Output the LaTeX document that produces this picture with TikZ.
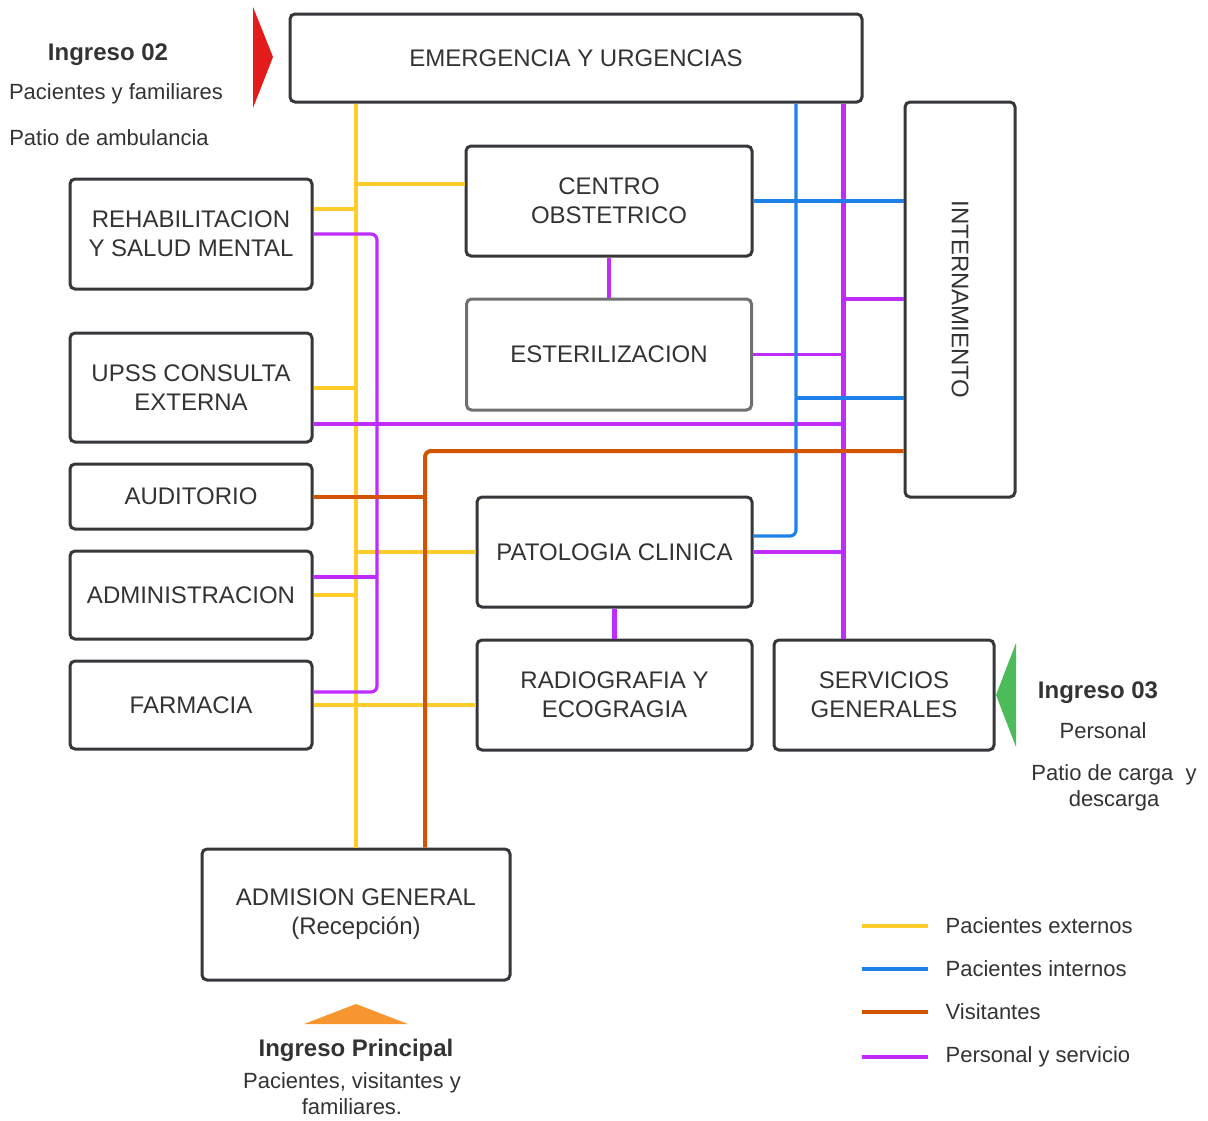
\documentclass[tikz,border=0pt]{standalone}
\usepackage{fontspec}
\setmainfont{Liberation Sans}
\usetikzlibrary{positioning, calc}

\definecolor{ylw}{HTML}{FFCC29}
\definecolor{blu}{HTML}{1E80E8}
\definecolor{org}{HTML}{D35400}
\definecolor{prp}{HTML}{C02CFF}
\definecolor{boxgray}{HTML}{35373B}
\definecolor{litegray}{HTML}{707070}
\definecolor{txtgray}{HTML}{333333}
\definecolor{redtri}{HTML}{E31B1B}
\definecolor{greentri}{HTML}{4CBB5A}
\definecolor{orgtri}{HTML}{F7962F}

\begin{document}
\begin{tikzpicture}[x=0.5pt, y=-0.5pt, node distance=9.5pt and 9.5pt]

\tikzset{
  box/.style={
    rectangle, rounded corners=2.5pt,
    draw=boxgray, line width=1.5pt, align=center,
    text=txtgray, inner sep=2pt,
    font=\fontsize{12}{14.5}\selectfont
  },
  wide/.style={minimum width=121pt},
  pextline/.style={draw=ylw, line width=2pt},
  pintline/.style={draw=blu, line width=1.6pt},
  visline/.style={draw=org, line width=2pt},
  persline/.style={draw=prp, line width=1.6pt},
  ingreso/.style={font=\bfseries\fontsize{12}{14}\selectfont, text=txtgray},
  note/.style={font=\fontsize{11}{13}\selectfont, text=txtgray, align=center}
}

\useasboundingbox (0,0) rectangle (1208,1120);

% ==========================
% Upper blocks
% ==========================
\node[box, minimum width=286pt, minimum height=44pt] (emerg) at (576,58) {EMERGENCIA Y URGENCIAS};
\node[box, minimum width=55pt, minimum height=197.5pt] (intern) at (960,299.5) {\rotatebox{-90}{INTERNAMIENTO}};
\node[box, minimum width=143pt, minimum height=55pt] (obst) at (609,201) {CENTRO\\OBSTETRICO};
\node[box, draw=litegray, minimum width=142.5pt, minimum height=55.5pt, below=20pt of obst] (ester) {ESTERILIZACION};

% ==========================
% Left column
% ==========================
\node[box, wide, minimum height=55pt] (rehab) at (191,234) {REHABILITACION\\Y SALUD MENTAL};
\node[box, wide, minimum height=54.5pt, below=20.5pt of rehab] (upss) {UPSS CONSULTA\\EXTERNA};
\node[box, wide, minimum height=32.5pt, below=of upss] (audit) {AUDITORIO};
\node[box, wide, minimum height=44pt, below=of audit] (admin) {ADMINISTRACION};
\node[box, wide, minimum height=44pt, below=of admin] (farm) {FARMACIA};

% ==========================
% Lower blocks
% ==========================
\node[box, minimum width=137.5pt, minimum height=55pt] (patol) at (614.5,552) {PATOLOGIA CLINICA};
\node[box, minimum width=137.5pt, minimum height=55pt, below=15pt of patol] (radio) {RADIOGRAFIA Y\\ECOGRAGIA};
\node[box, minimum width=110pt, minimum height=55pt, right=of radio] (serv) {SERVICIOS\\GENERALES};
\node[box, minimum width=154pt, minimum height=65.5pt] (adm) at (356,914.5) {ADMISION GENERAL\\(Recepción)};

% trunks
\coordinate (ytrunk) at (adm.north);
\coordinate (overt) at (425,0);
\coordinate (ploop) at (377,0);
\coordinate (bvert) at (796,0);
\coordinate (pvert) at (843,0);

% ==========================
% Pacientes externos
% ==========================
\draw[pextline] (ytrunk |- emerg.south) -- (adm.north);
\draw[pextline] (ytrunk |- 0,184) -- (obst.west |- 0,184);
\draw[pextline] (rehab.east |- 0,209) -- (ytrunk |- 0,209);
\draw[pextline] (upss.east) -- (ytrunk |- upss.east);
\draw[pextline] (ytrunk |- patol.west) -- (patol.west);
\draw[pextline] (admin.east) -- (ytrunk |- admin.east);
\draw[pextline] (farm.east) -- (radio.west |- farm.east);

% ==========================
% Personal y servicio
% ==========================
\draw[persline, line width=2.5pt] (pvert |- emerg.south) -- (pvert |- serv.north);
\draw[persline, rounded corners=3pt] (rehab.east) -| (ploop |- 0,692) -- (farm.east |- 0,692);
\draw[persline] (admin.east |- 0,577) -- (ploop |- 0,577);
\draw[persline, line width=2pt] (obst.south) -- (obst.south |- ester.north);
\draw[persline] (ester.east) -- (pvert |- ester.east);
\draw[persline] (pvert |- 0,299) -- (intern.west |- 0,299);
\draw[persline] (upss.east |- 0,424) -- (pvert |- 0,424);
\draw[persline] (patol.east) -- (pvert |- patol.east);
\draw[persline, line width=2.2pt] (patol.south) -- (radio.north);

% ==========================
% Pacientes internos
% ==========================
\draw[pintline, rounded corners=3pt] (bvert |- emerg.south) |- (patol.east |- 0,536);
\draw[pintline] (obst.east) -- (intern.west |- obst.east);
\draw[pintline] (bvert |- 0,398) -- (intern.west |- 0,398);

% ==========================
% Visitantes
% ==========================
\draw[visline, rounded corners=3pt] (intern.west |- 0,451) -| (overt |- adm.north);
\draw[visline] (audit.east) -- (overt |- audit.east);

% ==========================
% Entrances
% ==========================
\fill[redtri] (253,7) -- (273,57) -- (253,108) -- cycle;
\node[ingreso] (ing2) at (108,55) {Ingreso 02};
\node[note] (ing2a) at (116,94) {Pacientes y familiares};
\node[note] (ing2b) at (109,138) {Patio de ambulancia};

\fill[greentri] (1016,643) -- (996,695) -- (1016,747) -- cycle;
\node[ingreso] (ing3) at (1098,693) {Ingreso 03};
\node[note] (ing3a) at (1103,731) {Personal};
\node[note] (ing3b) at (1114,788) {Patio de carga\ \ y\\descarga};

\fill[orgtri] (304,1024) -- (356,1004) -- (408,1024) -- cycle;
\node[ingreso] (ingp) at (356,1050) {Ingreso Principal};
\node[note] (ingpa) at (352,1094) {Pacientes, visitantes y\\familiares.};

% ==========================
% Legend
% ==========================
\foreach \sty/\txt/\yy in {pextline/Pacientes externos/926, pintline/Pacientes internos/969,
                           visline/Visitantes/1012, persline/Personal y servicio/1057}{
  \draw[\sty, line width=1.6pt] (862,\yy) -- (928,\yy)
    node[note, anchor=west, inner sep=0pt, xshift=8pt] (leg\yy) {\txt};
}

\end{tikzpicture}
\end{document}
